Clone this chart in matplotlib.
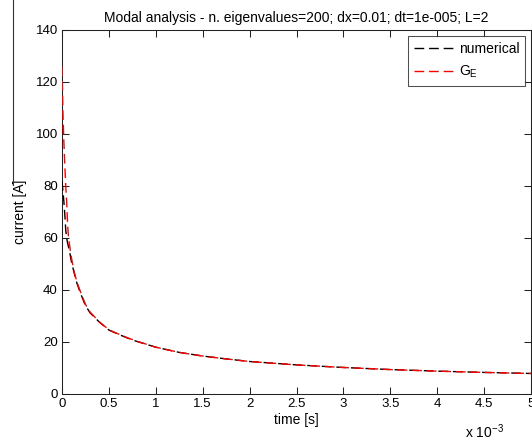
import matplotlib
matplotlib.use("Agg")
import matplotlib.pyplot as plt
from matplotlib.ticker import FuncFormatter, MultipleLocator
from matplotlib.lines import Line2D

plt.rcParams['font.family'] = ['Liberation Sans', 'DejaVu Sans']
plt.rcParams['mathtext.fontset'] = 'custom'
plt.rcParams['mathtext.rm'] = 'Liberation Sans'
plt.rcParams['mathtext.it'] = 'Liberation Sans'

# time in milliseconds (axis shows x 10^-3 s)
t_ms = [0, 0.005, 0.01, 0.02, 0.03, 0.04, 0.05, 0.06, 0.07, 0.08, 0.1, 0.13,
        0.16, 0.2, 0.25, 0.3, 0.4, 0.5, 0.6, 0.7, 0.8, 1.0, 1.25, 1.5, 1.75,
        2.0, 2.5, 3.0, 3.5, 4.0, 4.5, 5.0]
numerical = [82, 80, 78, 74, 69, 63, 60, 58, 56.5, 55, 51, 46.5,
             42.5, 38.5, 34, 31.2, 27.6, 24.6, 23.0, 21.5, 20.2, 18.0, 16.0, 14.6, 13.5,
             12.5, 11.2, 10.2, 9.4, 8.8, 8.3, 7.9]
G_E = [126, 118, 108, 97, 88, 80, 74, 65, 60, 57.5, 52.5, 47,
       43, 39, 34.5, 31.5, 27.7, 24.7, 23.1, 21.6, 20.3, 18.0, 16.0, 14.6, 13.5,
       12.5, 11.2, 10.2, 9.4, 8.8, 8.3, 7.9]

title = "Modal analysis - n. eigenvalues=200; dx=0.01; dt=1e-005; L=2"
xlabel = "time [s]"
ylabel = "current [A]"

W, H = 532, 442
fig = plt.figure(figsize=(W / 100, H / 100), dpi=100)
ax = fig.add_axes([62 / W, (H - 394) / H, (531 - 62) / W, (394 - 30) / H])

t_s = [v * 1e-3 for v in t_ms]
ax.plot(t_s, numerical, color='black', lw=1.0, ls=(0, (7, 3.5)), label='numerical', zorder=3)
ax.plot(t_s, G_E, color='red', lw=1.0, ls=(0, (7, 3.5)), label='G$_E$', zorder=3)

ax.set_xlim(0, 0.005)
ax.set_ylim(0, 140)
ax.xaxis.set_major_locator(MultipleLocator(0.0005))
ax.yaxis.set_major_locator(MultipleLocator(20))
ax.xaxis.set_major_formatter(FuncFormatter(lambda v, p: f"{v * 1e3:g}"))
ax.tick_params(direction='in', top=True, right=True, length=5, width=0.75,
               labelsize=9.5, colors='#222222', labelcolor='black', pad=3)
for s in ax.spines.values():
    s.set_linewidth(0.75)
    s.set_color('#222222')

ax.set_title(title, fontsize=10, pad=6)
ax.set_xlabel(xlabel, fontsize=10, labelpad=2)
ax.set_ylabel(ylabel, fontsize=10, labelpad=6)

leg = ax.legend(loc='upper right', fontsize=10, frameon=True, fancybox=False,
                edgecolor='#222222', handlelength=2.9, handletextpad=0.3,
                borderaxespad=0.4, labelspacing=0.55, borderpad=0.45)
leg.get_frame().set_linewidth(0.75)
leg.set_zorder(5)

fig.text(465 / W, 1 - 432 / H, r"x 10$^{-3}$", fontsize=10, ha='left', va='center')

# artifact line at left edge
fig.add_artist(Line2D([13 / W, 13 / W], [1.0, 1 - 185 / H], color='#333333', lw=0.8,
                      transform=fig.transFigure))

fig.savefig("out.png", dpi=100)
